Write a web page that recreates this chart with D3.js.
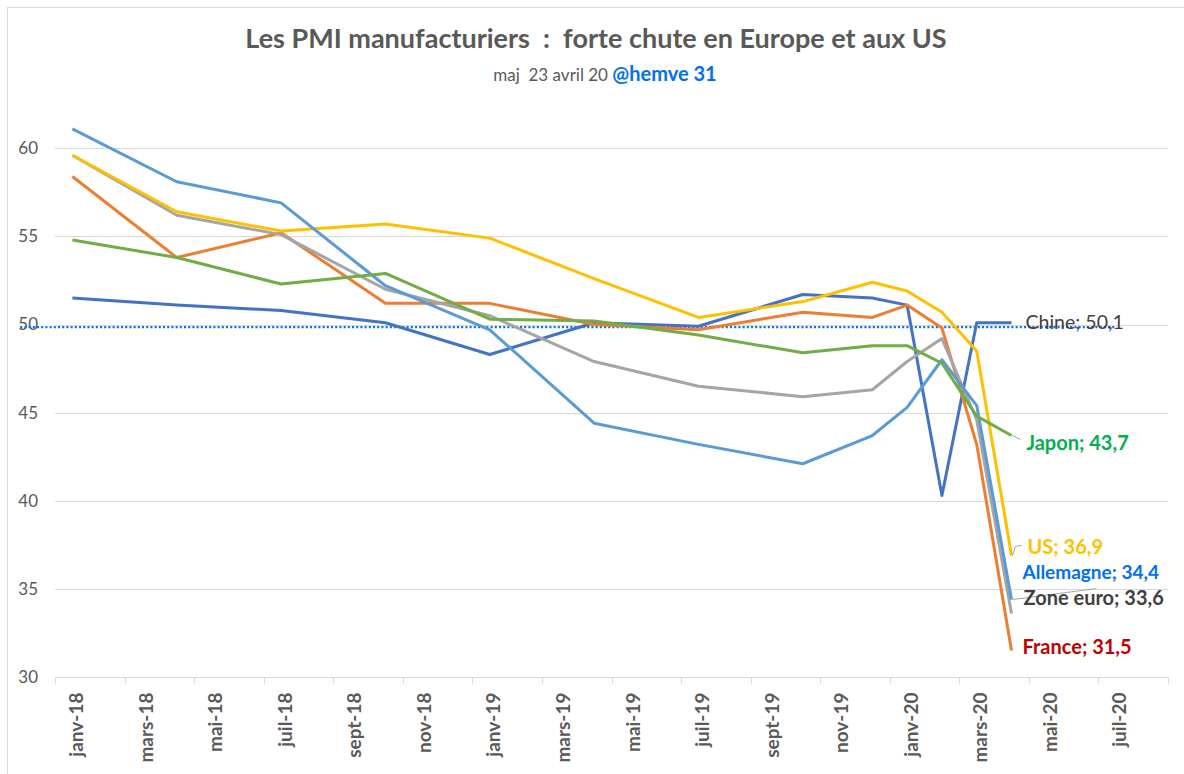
<!DOCTYPE html>
<html>
<head>
<meta charset="utf-8">
<script src="https://cdn.jsdelivr.net/npm/d3@7"></script>
<style>
  body { margin: 0; background: #fff; }
  svg { display: block; font-family: Lato, "Open Sans", sans-serif; }
  text { white-space: pre; }
</style>
</head>
<body>
<svg id="chart" width="1184" height="774"></svg>
<script>
// dates of the points (month of the release)
var dates = ["2018-01","2018-04","2018-07","2018-10","2019-01","2019-04","2019-07",
             "2019-10","2019-12","2020-01","2020-02","2020-03","2020-04"];

var chine     = [51.5, 51.1, 50.8, 50.1, 48.3, 50.1, 49.9, 51.7, 51.5, 51.1, 40.3, 50.1, 50.1];
var france    = [58.4, 53.8, 55.2, 51.2, 51.2, 50.0, 49.7, 50.7, 50.4, 51.1, 49.8, 43.2, 31.5];
var zoneEuro  = [59.6, 56.2, 55.1, 52.0, 50.5, 47.9, 46.5, 45.9, 46.3, 47.9, 49.2, 44.6, 33.6];
var us        = [59.6, 56.4, 55.3, 55.7, 54.9, 52.6, 50.4, 51.3, 52.4, 51.9, 50.7, 48.5, 36.9];
var allemagne = [61.1, 58.1, 56.9, 52.2, 49.7, 44.4, 43.2, 42.1, 43.7, 45.3, 48.0, 45.4, 34.4];
var japon     = [54.8, 53.8, 52.3, 52.9, 50.3, 50.2, 49.4, 48.4, 48.8, 48.8, 47.8, 44.8, 43.7];

var xTickLabels = ["janv-18","mars-18","mai-18","juil-18","sept-18","nov-18",
                   "janv-19","mars-19","mai-19","juil-19","sept-19","nov-19",
                   "janv-20","mars-20","mai-20","juil-20"];
var yTicks = [30, 35, 40, 45, 50, 55, 60];

// reference dotted line near 50
var refValue = 49.85;

var series = [
  { name: "Chine",     values: chine,     color: "#4472C4", labelColor: "#404040", bold: false, size: 19.5, dx: 14, dy: -1 },
  { name: "France",    values: france,    color: "#ED7D31", labelColor: "#C00000", bold: true,  size: 20, dx: 11, dy: -4 },
  { name: "Zone euro", values: zoneEuro,  color: "#A5A5A5", labelColor: "#404040", bold: true,  size: 20, dx: 12, dy: -16,
    leader: [[1, -14], [85, -25]] },
  { name: "US",        values: us,        color: "#FFC000", labelColor: "#FFC000", bold: true,  size: 20, dx: 16, dy: -8,
    leader: [[1, 0], [4, -9], [10, -10]] },
  { name: "Allemagne", values: allemagne, color: "#5B9BD5", labelColor: "#0070F0", bold: true,  size: 19, dx: 11, dy: -27 },
  { name: "Japon",     values: japon,     color: "#70AD47", labelColor: "#00B050", bold: true,  size: 20, dx: 15, dy: 7,
    leader: [[1, 0], [9, 4]] }
];

var svg = d3.select("#chart");
var plotLeft = 55, plotRight = 1168, plotTop = 113, plotBottom = 677;

function monthIndex(s) {
  var p = s.split("-");
  return (+p[0] - 2018) * 12 + (+p[1] - 1);
}

// 32 months (janv-18 .. août-20), points in the middle of each month
var x = d3.scaleLinear().domain([-0.5, 31.5]).range([plotLeft, plotRight]);
var y = d3.scaleLinear().domain([30, 62]).range([plotBottom, plotTop]);

// chart border
svg.append("rect").attr("x", 7.5).attr("y", 7.5).attr("width", 1200).attr("height", 800)
  .attr("fill", "none").attr("stroke", "#D9D9D9");

// title
svg.append("text").attr("x", 596).attr("y", 48).attr("text-anchor", "middle")
  .attr("font-size", 27).attr("font-weight", "bold").attr("fill", "#595959")
  .text("Les PMI manufacturiers  :  forte chute en Europe et aux US");

var sub = svg.append("text").attr("x", 605).attr("y", 81).attr("text-anchor", "middle").attr("fill", "#595959");
sub.append("tspan").attr("font-size", 17).text("maj  23 avril 20 ");
sub.append("tspan").attr("font-size", 20).attr("font-weight", "bold").attr("fill", "#0070F0").text("@hemve 31");

// gridlines + y labels
svg.append("g").selectAll("line").data(yTicks.slice(1)).enter().append("line")
  .attr("x1", plotLeft).attr("x2", plotRight)
  .attr("y1", function(d) { return Math.round(y(d)) + 0.5; })
  .attr("y2", function(d) { return Math.round(y(d)) + 0.5; })
  .attr("stroke", "#D9D9D9").attr("stroke-width", 1);

svg.append("g").selectAll("text").data(yTicks).enter().append("text")
  .attr("x", 38).attr("y", function(d) { return y(d); }).attr("dy", "0.35em")
  .attr("text-anchor", "end").attr("font-size", 17).attr("fill", "#595959")
  .text(function(d) { return d; });

// x axis
var tickIdx = d3.range(-0.5, 32, 2);
var xAxis = svg.append("g").attr("transform", "translate(0," + (plotBottom + 0.5) + ")");
xAxis.append("line").attr("x1", plotLeft).attr("x2", plotRight).attr("stroke", "#D9D9D9");
xAxis.selectAll(".tick").data(tickIdx).enter().append("line")
  .attr("x1", function(d) { return Math.round(x(d)) + 0.5; })
  .attr("x2", function(d) { return Math.round(x(d)) + 0.5; })
  .attr("y1", 0).attr("y2", 6).attr("stroke", "#D9D9D9");
xAxis.selectAll("text").data(xTickLabels).enter().append("text")
  .attr("transform", function(d, i) { return "translate(" + (x(i * 2) + 4) + ",15) rotate(-90)"; })
  .attr("text-anchor", "end").attr("dy", "0.35em")
  .attr("font-size", 19).attr("font-weight", "bold").attr("fill", "#595959")
  .text(function(d) { return d; });

// dotted reference line
svg.append("line")
  .attr("x1", x(monthIndex("2017-12")) - (x(1) - x(0)) / 2)
  .attr("x2", x(monthIndex("2020-07")))
  .attr("y1", y(refValue)).attr("y2", y(refValue))
  .attr("stroke", "#0070F0").attr("stroke-width", 2.2).attr("stroke-dasharray", "2 2.2");

// lines
var line = d3.line()
  .x(function(d, i) { return x(monthIndex(dates[i])); })
  .y(function(d) { return y(d); });

svg.append("g").selectAll("path").data(series).enter().append("path")
  .attr("d", function(s) { return line(s.values); })
  .attr("fill", "none").attr("stroke", function(s) { return s.color; })
  .attr("stroke-width", 3).attr("stroke-linejoin", "round");

// end labels
var lastX = x(monthIndex(dates[dates.length - 1]));
series.forEach(function(s) {
  var v = s.values[s.values.length - 1];
  var py = y(v);
  if (s.leader) {
    svg.append("path")
      .attr("d", d3.line()(s.leader.map(function(p) { return [lastX + p[0], py + p[1]]; })))
      .attr("fill", "none").attr("stroke", "#A5A5A5").attr("stroke-width", 1);
  }
  svg.append("text")
    .attr("x", lastX + s.dx).attr("y", py + s.dy).attr("dy", "0.35em")
    .attr("font-size", s.size).attr("font-weight", s.bold ? "bold" : "normal")
    .attr("fill", s.labelColor)
    .text(s.name + "; " + d3.format(".1f")(v).replace(".", ","));
});
</script>
</body>
</html>
